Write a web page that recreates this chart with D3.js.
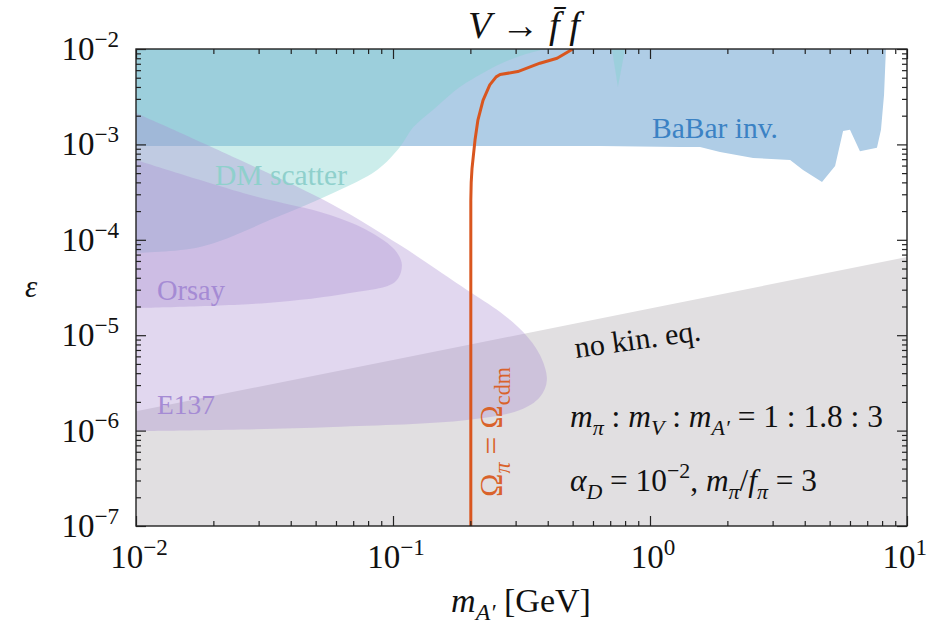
<!DOCTYPE html>
<html><head><meta charset="utf-8">
<script src="https://cdn.jsdelivr.net/npm/d3@7"></script>
</head>
<body style="margin:0;background:#fff">
<svg id="c" width="930" height="624"></svg>
<script>
// ---------- data (m in GeV, epsilon) ----------
const xTickVals = [1e-2, 1e-1, 1e0, 1e1];
const xTickExp = ["\u22122", "\u22121", "0", "1"];
const yTickVals = [1e-7, 1e-6, 1e-5, 1e-4, 1e-3, 1e-2];
const yTickExp = ["\u22127", "\u22126", "\u22125", "\u22124", "\u22123", "\u22122"];

// relic-abundance line Omega_pi = Omega_cdm
const omegaM   = [0.2008, 0.2008, 0.2015, 0.203, 0.2085, 0.214, 0.224, 0.238, 0.252, 0.261, 0.306, 0.373, 0.435, 0.501];
const omegaEps = [1e-7, 2.6e-4, 4e-4, 5.6e-4, 1.11e-3, 1.8e-3, 2.9e-3, 4.2e-3, 5.1e-3, 5.4e-3, 5.8e-3, 7.1e-3, 8.0e-3, 1e-2];

// no kinetic equilibrium (upper boundary; region below)
const kinM   = [0.01, 0.1, 1, 10];
const kinEps = [1.6e-6, 5.5e-6, 1.9e-5, 6.6e-5];

// BaBar invisible (lower boundary; region above)
const babarM   = [0.01, 0.638, 1.309, 1.566, 1.873, 2.52, 3.51, 3.94, 4.67, 5.25, 5.64, 6.00, 6.56, 7.64, 7.92, 8.14, 8.28];
const babarEps = [9.6e-4, 9.6e-4, 9.4e-4, 9.4e-4, 8.3e-4, 7.2e-4, 6.85e-4, 5.4e-4, 4.04e-4, 5.94e-4, 1.38e-3, 1.42e-3, 8.5e-4, 9.2e-4, 1.42e-3, 3.3e-3, 1e-2];

// DM scattering (boundary; region upper-left)
const dmM   = [0.39, 0.312, 0.261, 0.224, 0.182, 0.143, 0.120, 0.1064, 0.0867, 0.0585, 0.0354, 0.01774, 0.01];
const dmEps = [1e-2, 8.45e-3, 6.97e-3, 5.6e-3, 4.0e-3, 2.3e-3, 1.52e-3, 9.4e-4, 5.4e-4, 3.1e-4, 1.73e-4, 8.4e-5, 7.3e-5];
const dmSpikeM   = [0.711, 0.75, 0.80];
const dmSpikeEps = [1e-2, 4e-3, 1e-2];

// E137 beam dump (closed contour)
const e137M   = [0.01, 0.0254, 0.0585, 0.1064, 0.194, 0.261, 0.321, 0.373, 0.397, 0.373, 0.312, 0.194, 0.0585, 0.01774, 0.01];
const e137Eps = [2.13e-3, 6.85e-4, 2.32e-4, 8.8e-5, 2.98e-5, 1.75e-5, 1.08e-5, 6.2e-6, 3.39e-6, 2.25e-6, 1.64e-6, 1.29e-6, 1.09e-6, 1.01e-6, 9.9e-7];

// Orsay beam dump (closed contour)
const orsayM   = [0.01, 0.0278, 0.0569, 0.0815, 0.1018, 0.1083, 0.1018, 0.068, 0.0324, 0.01];
const orsayEps = [6.85e-4, 2.95e-4, 1.82e-4, 1.21e-4, 7.8e-5, 5.44e-5, 3.61e-5, 2.77e-5, 2.18e-5, 1.93e-5];

// ---------- layout ----------
const L = 136, R = 907, T = 49, B = 526;
const FONT = "'Liberation Serif'";
const svg = d3.select("#c");
const x = d3.scaleLog().domain([1e-2, 1e1]).range([L, R]);
const y = d3.scaleLog().domain([1e-7, 1e-2]).range([B, T]);
const zip = (a, b) => a.map((v, i) => [v, b[i]]);
const line = d3.line().x(d => x(d[0])).y(d => y(d[1]));
const sline = d3.line().x(d => x(d[0])).y(d => y(d[1])).curve(d3.curveCatmullRom.alpha(0.5));

svg.append("defs").append("clipPath").attr("id", "clip")
  .append("rect").attr("x", L).attr("y", T).attr("width", R - L).attr("height", B - T);
const g = svg.append("g").attr("clip-path", "url(#clip)");

g.append("path")
  .attr("d", line([...zip(kinM, kinEps), [10, 1e-7], [0.01, 1e-7]]) + "Z")
  .attr("fill", "#e1dfe1");
g.append("path")
  .attr("d", line([[0.01, 1e-2], ...zip(babarM, babarEps)]) + "Z")
  .attr("fill", "#afcde6");
g.append("path")
  .attr("d", sline(zip(dmM, dmEps)) + "L" + x(0.01) + "," + y(1e-2) + "Z")
  .attr("fill", "#7fd1cc").attr("fill-opacity", 0.4);
g.append("path")
  .attr("d", line(zip(dmSpikeM, dmSpikeEps)) + "Z")
  .attr("fill", "#7fd1cc").attr("fill-opacity", 0.4);
g.append("path")
  .attr("d", sline(zip(e137M, e137Eps)) + "Z")
  .attr("fill", "#a98bd2").attr("fill-opacity", 0.35);
g.append("path")
  .attr("d", sline(zip(orsayM, orsayEps)) + "Z")
  .attr("fill", "#a98bd2").attr("fill-opacity", 0.35);
g.append("path")
  .attr("d", line(zip(omegaM, omegaEps)))
  .attr("fill", "none").attr("stroke", "#d9561f").attr("stroke-width", 3)
  .attr("stroke-linejoin", "round");

// ---------- axes ----------
const minorX = [];
for (let e = -2; e < 1; e++) for (let k = 2; k <= 9; k++) minorX.push(k * Math.pow(10, e));
const minorY = [];
for (let e = -7; e < -2; e++) for (let k = 2; k <= 9; k++) minorY.push(k * Math.pow(10, e));

function axis(gen, tr, vals, size) {
  const a = svg.append("g").attr("transform", tr)
    .call(gen.tickValues(vals).tickSize(size).tickFormat(""));
  a.select(".domain").remove();
  a.selectAll("line").attr("stroke", "#222").attr("stroke-width", 1.2);
}
axis(d3.axisBottom(x), `translate(0,${B})`, xTickVals, -10);
axis(d3.axisBottom(x), `translate(0,${B})`, minorX, -5);
axis(d3.axisTop(x), `translate(0,${T})`, xTickVals, -10);
axis(d3.axisTop(x), `translate(0,${T})`, minorX, -5);
axis(d3.axisLeft(y), `translate(${L},0)`, yTickVals, -10);
axis(d3.axisLeft(y), `translate(${L},0)`, minorY, -5);
axis(d3.axisRight(y), `translate(${R},0)`, yTickVals, -10);
axis(d3.axisRight(y), `translate(${R},0)`, minorY, -5);
svg.append("rect").attr("x", L).attr("y", T).attr("width", R - L).attr("height", B - T)
  .attr("fill", "none").attr("stroke", "#222").attr("stroke-width", 1.4);

// ---------- rich text helpers ----------
function rich(parts, fs, setup) {
  const t = svg.append("text").style("font-family", FONT);
  setup(t);
  let cur = 0;
  parts.forEach(p => {
    const off = p.sub ? 0.24 * fs : p.sup ? -0.4 * fs : 0;
    const sp = t.append("tspan").text(p.t).attr("font-size", (p.sub || p.sup) ? fs * 0.7 : fs);
    if (off !== cur) { sp.attr("dy", off - cur); cur = off; }
    if (p.it) sp.style("font-style", "italic");
  });
  return t;
}
function fitted(parts, target, setup) {
  let t = rich(parts, 20, setup);
  const w = t.node().getComputedTextLength();
  t.remove();
  return rich(parts, 20 * target / w, setup);
}

// tick labels
xTickVals.forEach((v, i) => {
  const t = rich([{t: "10"}, {t: xTickExp[i], sup: true}], 33,
    t => t.attr("x", x(v) + 3).attr("y", 568).attr("text-anchor", "middle").attr("fill", "#111"));
  const bb = t.node().getBBox();
  if (bb.x + bb.width > 927) t.attr("x", x(v) + 3 - (bb.x + bb.width - 927));
});
yTickVals.forEach((v, i) => {
  rich([{t: "10"}, {t: yTickExp[i], sup: true}], 33,
    t => t.attr("x", 119).attr("y", y(v) + 11).attr("text-anchor", "end").attr("fill", "#111"));
});

// axis titles and title
fitted([{t: "m", it: true}, {t: "A\u2032", it: true, sub: true}, {t: " [GeV]"}], 140,
  t => t.attr("x", 521).attr("y", 612).attr("text-anchor", "middle").attr("fill", "#111"));
rich([{t: "\u03b5", it: true}], 31,
  t => t.attr("x", 31).attr("y", 297).attr("text-anchor", "middle").attr("fill", "#111"));
fitted([{t: "V", it: true}, {t: " \u2192 "}, {t: "f\u0304", it: true}, {t: " f", it: true}], 112,
  t => t.attr("x", 524).attr("y", 38).attr("text-anchor", "middle").attr("fill", "#111"));

// region labels
fitted([{t: "BaBar inv."}], 126, t => t.attr("x", 652).attr("y", 138).attr("fill", "#3b82c4"));
fitted([{t: "DM scatter"}], 132, t => t.attr("x", 215).attr("y", 185).attr("fill", "#8fd0cc"));
fitted([{t: "Orsay"}], 68, t => t.attr("x", 157).attr("y", 300).attr("fill", "#a58bd4"));
fitted([{t: "E137"}], 58, t => t.attr("x", 157).attr("y", 414).attr("fill", "#a58bd4"));
fitted([{t: "no kin. eq."}], 127, t => t.attr("transform", "translate(576,358) rotate(-8)").attr("fill", "#111"));

fitted([{t: "m", it: true}, {t: "\u03c0", it: true, sub: true}, {t: " : "},
        {t: "m", it: true}, {t: "V", it: true, sub: true}, {t: " : "},
        {t: "m", it: true}, {t: "A\u2032", it: true, sub: true}, {t: " = 1 : 1.8 : 3"}], 313,
  t => t.attr("x", 570).attr("y", 427).attr("fill", "#111"));
fitted([{t: "\u03b1", it: true}, {t: "D", it: true, sub: true}, {t: " = 10"}, {t: "\u22122", sup: true},
        {t: ", "}, {t: "m", it: true}, {t: "\u03c0", it: true, sub: true}, {t: "/"},
        {t: "f", it: true}, {t: "\u03c0", it: true, sub: true}, {t: " = 3"}], 247,
  t => t.attr("x", 570).attr("y", 491).attr("fill", "#111"));
fitted([{t: "\u03a9"}, {t: "\u03c0", it: true, sub: true}, {t: " = \u03a9"}, {t: "cdm", sub: true}], 130,
  t => t.attr("transform", "translate(502,432) rotate(-90)").attr("text-anchor", "middle").attr("fill", "#d9622b"));
</script></body></html>
